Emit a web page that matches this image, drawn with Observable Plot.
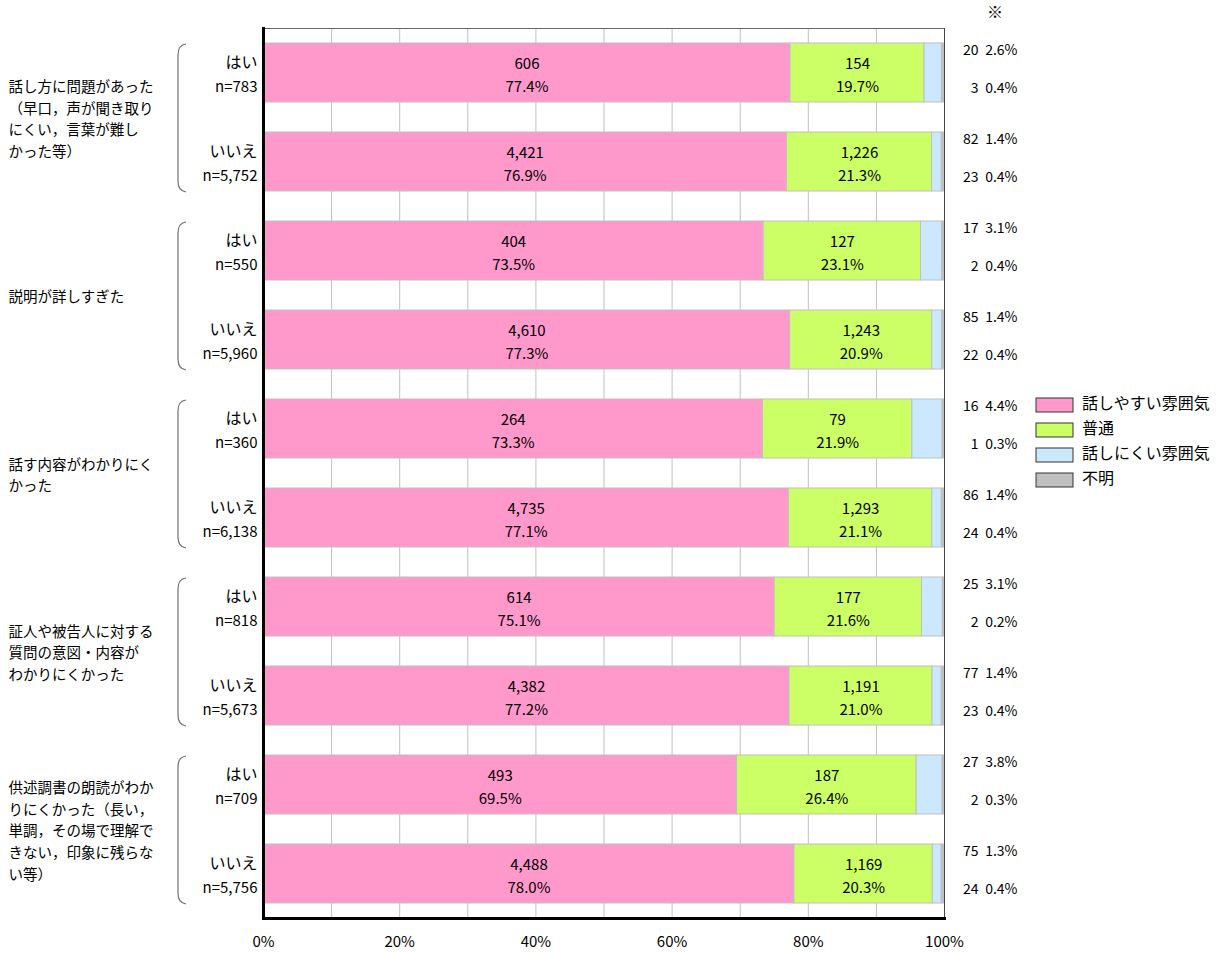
<!DOCTYPE html>
<html><head><meta charset="utf-8">
<script src="https://cdn.jsdelivr.net/npm/d3@7"></script>
<script src="https://cdn.jsdelivr.net/npm/@observablehq/plot@0.6"></script>
<style>
body{margin:0;background:#fff;font-family:"Noto Sans CJK JP",sans-serif;}
</style></head>
<body><div id="chart"></div>
<script>
const groups = [
  "話し方に問題があった\n（早口，声が聞き取り\nにくい，言葉が難し\nかった等）",
  "説明が詳しすぎた",
  "話す内容がわかりにく\nかった",
  "証人や被告人に対する\n質問の意図・内容が\nわかりにくかった",
  "供述調書の朗読がわか\nりにくかった（長い，\n単調，その場で理解で\nきない，印象に残らな\nい等）"
];
const answers = ["はい", "いいえ"];
const categories = ["話しやすい雰囲気", "普通", "話しにくい雰囲気", "不明"];
const colors = ["#ff99cc", "#ccff66", "#cce8ff", "#c0c0c0"];
// counts per row: [話しやすい, 普通, 話しにくい, 不明]
const counts = [
  [606, 154, 20, 3],
  [4421, 1226, 82, 23],
  [404, 127, 17, 2],
  [4610, 1243, 85, 22],
  [264, 79, 16, 1],
  [4735, 1293, 86, 24],
  [614, 177, 25, 2],
  [4382, 1191, 77, 23],
  [493, 187, 27, 2],
  [4488, 1169, 75, 24]
];
const percents = [
  [77.4, 19.7, 2.6, 0.4],
  [76.9, 21.3, 1.4, 0.4],
  [73.5, 23.1, 3.1, 0.4],
  [77.3, 20.9, 1.4, 0.4],
  [73.3, 21.9, 4.4, 0.3],
  [77.1, 21.1, 1.4, 0.4],
  [75.1, 21.6, 3.1, 0.2],
  [77.2, 21.0, 1.4, 0.4],
  [69.5, 26.4, 3.8, 0.3],
  [78.0, 20.3, 1.3, 0.4]
];
const nValues = [783, 5752, 550, 5960, 360, 6138, 818, 5673, 709, 5756];
const xTicks = [0, 0.2, 0.4, 0.6, 0.8, 1];

const fmt = d3.format(",");
const rowKeys = counts.map((_, i) => `${Math.floor(i/2)}-${answers[i%2]}`);
const segs = [];
counts.forEach((r, i) => r.forEach((c, j) => segs.push({
  row: rowKeys[i], cat: categories[j], ci: j, count: c, pct: percents[i][j],
  label: `${fmt(c)}\n${percents[i][j].toFixed(1)}%`
})));
const rows = rowKeys.map((k, i) => ({
  row: k, ans: answers[i%2], n: `n=${fmt(nValues[i])}`,
  c3: String(counts[i][2]), p3: percents[i][2].toFixed(1) + "%",
  c4: String(counts[i][3]), p4: percents[i][3].toFixed(1) + "%"
}));
const groupRows = groups.map((g, i) => ({row: rowKeys[i*2], label: g}));

const font = "Noto Sans CJK JP";
const plot = Plot.plot({
  width: 1232, height: 953,
  marginLeft: 263, marginRight: 288, marginTop: 28, marginBottom: 35,
  style: {fontFamily: font, fontSize: "15px", color: "#000", background: "#fff", overflow: "visible"},
  x: {domain: [0, 1], axis: null, label: null},
  y: {domain: rowKeys, paddingInner: 0.337, paddingOuter: 0.1685, axis: null},
  color: {domain: categories, range: colors},
  marks: [
    Plot.gridX({ticks: d3.range(0, 11).map(d => d / 10), stroke: "#c0c0c0", strokeOpacity: 1}),
    Plot.barX(segs, Plot.stackX({offset: "normalize", order: categories, x: "count", y: "row", fill: "cat", stroke: "#c0c0c0", strokeWidth: 1})),
    Plot.text(segs, Plot.stackX({offset: "normalize", order: categories, x: "count", y: "row", z: "cat",
      text: d => d.ci < 2 ? d.label : "", lineHeight: 1.55, fontSize: 15, fill: "#000"})),
    Plot.frame({anchor: "top", stroke: "#666"}),
    Plot.frame({anchor: "right", stroke: "#444"}),
    Plot.frame({anchor: "left", stroke: "#000", strokeWidth: 3}),
    Plot.frame({anchor: "bottom", stroke: "#000", strokeWidth: 3}),
    Plot.axisX({ticks: xTicks, tickFormat: d => Math.round(d * 100) + "%", tickSize: 0, tickPadding: 18, fontSize: 15, label: null}),
    // answer labels
    Plot.text(rows, {y: "row", frameAnchor: "left", text: "ans", textAnchor: "end", dx: -6, dy: -10, fontSize: 16}),
    Plot.text(rows, {y: "row", frameAnchor: "left", text: "n", textAnchor: "end", dx: -6, dy: 14, fontSize: 15}),
    // group labels
    Plot.text(groupRows, {y: "row", frameAnchor: "left", text: "label", textAnchor: "start", dx: -255, dy: 44.5, lineHeight: 1.5, fontSize: 14.5}),
    // right labels
    Plot.text(rows, {y: "row", frameAnchor: "right", text: "c3", textAnchor: "end", dx: 34, dy: -22, fontSize: 14}),
    Plot.text(rows, {y: "row", frameAnchor: "right", text: "p3", textAnchor: "end", dx: 73, dy: -22, fontSize: 14}),
    Plot.text(rows, {y: "row", frameAnchor: "right", text: "c4", textAnchor: "end", dx: 34, dy: 16, fontSize: 14}),
    Plot.text(rows, {y: "row", frameAnchor: "right", text: "p4", textAnchor: "end", dx: 73, dy: 16, fontSize: 14})
  ]
});
document.getElementById("chart").appendChild(plot);

const svg = d3.select(plot);
const ys = plot.scale("y");
const bw = ys.bandwidth;
// braces
groups.forEach((g, i) => {
  const top = ys.apply(rowKeys[i*2]) + 1;
  const bot = ys.apply(rowKeys[i*2+1]) + bw + 1;
  const x0 = 178, x1 = 186;
  svg.append("path")
    .attr("d", `M${x1},${top} Q${x0},${top+1} ${x0},${top+11} L${x0},${bot-11} Q${x0},${bot-1} ${x1},${bot}`)
    .attr("fill", "none").attr("stroke", "#707070").attr("stroke-width", 1.2);
});
// ※ mark
svg.append("text").attr("x", 995).attr("y", 14).attr("text-anchor", "middle")
  .attr("dominant-baseline", "middle").attr("font-size", 16).text("※");
// legend
const lg = svg.append("g").attr("transform", "translate(1036,398)");
categories.forEach((c, i) => {
  const g = lg.append("g").attr("transform", `translate(0,${i * 25})`);
  g.append("rect").attr("width", 37).attr("height", 14).attr("fill", colors[i]).attr("stroke", "#333").attr("stroke-width", 1);
  g.append("text").attr("x", 46).attr("y", 7).attr("text-anchor", "start")
    .attr("dominant-baseline", "middle").attr("font-size", 16).text(c);
});
</script></body></html>
